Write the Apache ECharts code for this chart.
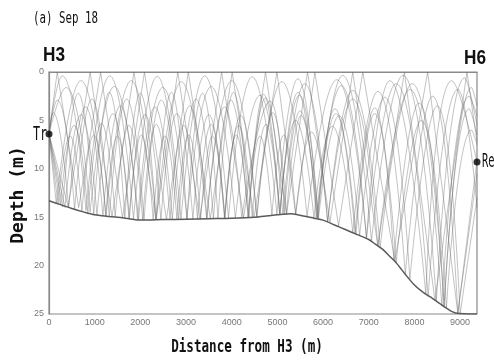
<!DOCTYPE html>
<html>
<head>
<meta charset="utf-8">
<script src="https://cdn.jsdelivr.net/npm/echarts@6/dist/echarts.min.js"></script>
<style>
  html, body {margin: 0; padding: 0; background: #fff;}
  #chart {width: 494px; height: 362px;}
</style>
</head>
<body>
<div id="chart"></div>
<script>
// bottom profile (distance m, depth m)
const bottomX = [0, 250, 500, 750, 1000, 1250, 1500, 1750, 2000, 2500, 3000, 3500, 4000, 4500, 4800, 5000, 5300, 5600, 5800, 6000, 6250, 6500, 6750, 7000, 7150, 7300, 7450, 7600, 7800, 8000, 8200, 8400, 8550, 8700, 8900, 9370];
const bottomD = [13.3, 13.7, 14.1, 14.45, 14.75, 14.9, 15.0, 15.15, 15.3, 15.25, 15.2, 15.15, 15.1, 15.0, 14.85, 14.75, 14.65, 14.9, 15.1, 15.3, 15.8, 16.3, 16.8, 17.3, 17.8, 18.3, 19.0, 19.7, 20.9, 22.0, 22.8, 23.4, 23.9, 24.4, 24.9, 25];

// source / receiver
const source = [0, 6.4];
const receiver = [9370, 9.3];

// ray paths: turning / bounce points [x, depth]
const rayA = [[0,6.4],[180,0],[650,14.0],[1130,0],[1610,15.05],[2090,0],[2570,15.25],[3050,0],[3530,15.15],[4010,0],[4490,15.0],[4990,0],[5400,14.7],[5820,0],[6340,15.9],[6870,0],[7570,19.5],[8290,0],[8950,24.9],[9370,9.1]];
const rayB = [[0,6.4],[420,13.9],[900,0],[1380,14.95],[1860,0],[2340,15.28],[2820,0],[3300,15.18],[3780,0],[4260,15.05],[4740,0],[5200,14.7],[5660,0],[6150,15.55],[6650,0],[7200,18.0],[7780,0],[8450,23.6],[9150,0],[9370,7.2]];
const rayC = [[0,6.4],[290,0.4],[810,14.3],[1330,0.4],[1850,15.2],[2370,0.45],[2890,15.2],[3410,0.4],[3930,15.1],[4450,0.5],[4990,14.75],[5450,0.7],[5890,15.1],[6430,0.35],[7060,17.4],[7750,0.35],[8480,23.7],[9100,0.6],[9370,5.5]];
const rayD = [[0,6.4],[370,1.6],[900,14.45],[1430,1.5],[1960,15.28],[2490,1.6],[3020,15.2],[3550,1.5],[4080,15.1],[4620,2.4],[5060,14.73],[5450,2.1],[5850,15.05],[6400,1.4],[6950,17.2],[7460,0.9],[8250,23.0],[8820,0.9],[9370,9.3]];
const rayE = [[0,6.4],[90,4.2],[430,14.05],[800,3.6],[1180,14.88],[1560,3.5],[1940,15.28],[2320,3.6],[2700,15.24],[3080,3.5],[3460,15.16],[3840,3.6],[4220,15.08],[4840,3.0],[5150,14.7],[5500,4.0],[5880,15.1],[6260,3.8],[6700,16.7],[7130,3.7],[7550,19.4],[8100,3.2],[8650,24.2],[9200,3.8],[9370,6.5]];
const rayF = [[0,6.4],[350,14.0],[700,4.4],[1050,14.8],[1400,4.3],[1750,15.15],[2100,4.4],[2450,15.26],[2800,4.3],[3150,15.2],[3500,4.4],[3850,15.12],[4200,4.5],[4550,15.0],[4900,4.2],[5200,14.7],[5520,4.5],[5870,15.1],[6280,4.3],[6720,16.8],[7130,4.3],[7600,19.7],[8150,5.0],[8700,24.4],[9250,6.0],[9370,7.5]];
const rayG = [[0,6.4],[250,13.7],[550,5.5],[850,14.55],[1150,5.3],[1450,14.98],[1750,5.5],[2050,15.3],[2350,5.4],[2650,15.24],[2950,5.5],[3250,15.2],[3550,5.4],[3850,15.12],[4150,5.5],[4450,15.02],[4750,5.4],[5050,14.74],[5400,5.0],[5800,15.1],[6200,5.6],[6650,16.6],[7200,2.0],[7800,20.9],[8400,2.5],[8950,24.9],[9370,10.5]];
const rayH = [[0,6.4],[200,13.6],[460,6.6],[720,14.4],[980,6.5],[1240,14.9],[1500,6.6],[1760,15.15],[2020,6.5],[2280,15.3],[2540,6.6],[2800,15.22],[3060,6.5],[3320,15.2],[3580,6.6],[3840,15.12],[4100,6.5],[4360,15.04],[4620,6.6],[4880,14.8],[5140,6.5],[5400,14.7],[5750,6.2],[6100,15.5],[6650,1.9],[7250,18.1],[7950,1.2],[8650,24.2],[9250,1.6],[9370,3.5]];
const rayI = [[0,6.4],[180,2.9],[560,14.2],[940,2.8],[1320,14.95],[1700,2.8],[2080,15.3],[2460,2.9],[2840,15.22],[3220,2.8],[3600,15.15],[3980,2.9],[4360,15.04],[4740,2.7],[5120,14.72],[5600,1.2],[6100,15.5],[6650,2.8],[7200,18.0],[7900,1.8],[8600,24.2],[9200,2.5],[9370,4.5]];
const rayJ = [[0,6.4],[160,13.6],[700,0.9],[1250,14.9],[1800,0.9],[2350,15.26],[2900,1.0],[3450,15.16],[4000,0.9],[4550,15.0],[5100,1.0],[5650,14.95],[6300,0.8],[6950,17.2],[7600,1.2],[8300,23.2],[8950,1.8],[9370,14]];
const rayK = [[0,6.4],[300,13.95],[640,2.2],[980,14.75],[1320,2.1],[1660,15.1],[2000,2.2],[2340,15.28],[2680,2.1],[3020,15.2],[3360,2.2],[3700,15.14],[4040,2.1],[4380,15.04],[4700,2.3],[5050,14.75],[5480,2.4],[5900,15.15],[6350,4.5],[6800,16.9],[7350,2.6],[7900,21.4],[8500,3.5],[9000,25],[9370,13]];

const rays = [rayA, rayB, rayC, rayD, rayE, rayF, rayG, rayH, rayI, rayJ, rayK];

// split every ray into arches (rounded tops) and straight legs (surface bounces)
const arches = [];
const legs = [];
const gap = ['-', '-'];
rays.forEach(r => {
  const n = r.length;
  if (r[1][1] > r[0][1]) legs.push(r[0], r[1], gap);
  for (let i = 1; i < n - 1; i++) {
    if (r[i][1] < r[i - 1][1] && r[i][1] < r[i + 1][1]) {
      const target = r[i][1] > 0.05 ? arches : legs;
      target.push(r[i - 1], r[i], r[i + 1], gap);
    }
  }
  if (r[n - 2][1] > r[n - 1][1] && r[n - 2][1] > r[n - 3][1]) legs.push(r[n - 2], r[n - 1], gap);
});

const chart = echarts.init(document.getElementById('chart'));
const rayStyle = {color: 'rgba(110,110,110,0.42)', width: 1};
const condensed = (text, x, y, font, sx, align) => ({
  type: 'text', x: x, y: y, scaleX: sx, silent: true,
  style: {text: text, font: font, fill: '#111', align: align, verticalAlign: 'middle'}
});

chart.setOption({
  animation: false,
  grid: {left: 49, top: 72, right: 17, bottom: 48, show: true, borderColor: '#8a8a8a', borderWidth: 1.2},
  xAxis: {
    type: 'value', min: 0, max: 9370, interval: 1000,
    axisLine: {show: true, lineStyle: {color: '#8a8a8a', width: 1.2}},
    axisTick: {show: false},
    splitLine: {show: false},
    axisLabel: {color: '#777', fontSize: 9, margin: 4, showMaxLabel: false, fontFamily: 'Liberation Sans', formatter: v => String(v)}
  },
  yAxis: {
    type: 'value', inverse: true, min: 0, max: 25, interval: 5,
    axisLine: {show: true, lineStyle: {color: '#8a8a8a', width: 1.2}},
    axisTick: {show: false},
    splitLine: {show: false},
    axisLabel: {color: '#777', fontSize: 9, margin: 5, fontFamily: 'Liberation Sans'}
  },
  graphic: [
    condensed('(a) Sep 18', 33, 19, 'normal 15px "DejaVu Sans Mono"', 0.72, 'left'),
    condensed('H3', 54, 55, 'bold 20px "Liberation Sans"', 0.86, 'center'),
    condensed('H6', 475, 58, 'bold 20px "Liberation Sans"', 0.86, 'center'),
    condensed('Tr', 33, 135, 'normal 19px "DejaVu Sans Mono"', 0.62, 'left'),
    condensed('Re', 482, 162, 'normal 19px "DejaVu Sans Mono"', 0.55, 'left'),
    condensed('Distance from H3 (m)', 247, 347, 'bold 18px "DejaVu Sans Mono"', 0.70, 'center'),
    {
      type: 'text', x: 18, y: 195, rotation: Math.PI / 2, silent: true,
      style: {text: 'Depth (m)', font: 'bold 18px "DejaVu Sans Mono"', fill: '#111', align: 'center', verticalAlign: 'middle'}
    }
  ],
  series: [
    {type: 'line', data: arches, smooth: 0.5, symbol: 'none', connectNulls: false, lineStyle: rayStyle, silent: true},
    {type: 'line', data: legs, symbol: 'none', connectNulls: false, lineStyle: rayStyle, silent: true},
    {
      type: 'line', data: bottomX.map((x, i) => [x, bottomD[i]]), smooth: 0.3, symbol: 'none',
      lineStyle: {color: '#5a5a5a', width: 1.5}, silent: true, z: 3
    },
    {
      type: 'scatter', data: [source, receiver], symbolSize: 7, clip: false,
      itemStyle: {color: '#000'}, silent: true, z: 5
    }
  ]
});
</script>
</body>
</html>
